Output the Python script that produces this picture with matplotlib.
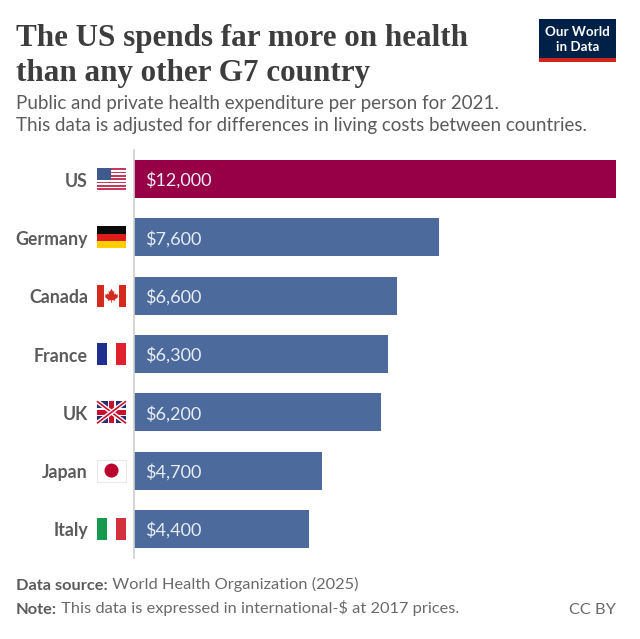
"""G7 health spending bar chart, Our World in Data style."""

import matplotlib

matplotlib.use("Agg")  # headless
import matplotlib.pyplot as plt  # noqa: E402
from matplotlib.patches import Circle, Polygon, Rectangle  # noqa: E402

plt.rcParams["font.family"] = ["Lato", "DejaVu Sans"]

countries = ["US", "Germany", "Canada", "France", "UK", "Japan", "Italy"]
# the printed labels are rounded
spending = [12000, 7590, 6560, 6320, 6150, 4680, 4360]
value_labels = ["$12,000", "$7,600", "$6,600", "$6,300", "$6,200", "$4,700", "$4,400"]
highlight = "US"

W, H = 640, 639
BLUE = "#4c6a9c"
RED = "#970046"
GREY = "#5b5b5b"
LIGHT_GREY = "#6a6a6a"
DARK = "#3d3d3d"
FLAG_W, FLAG_H = 29, 22


def flag_us(ov, x, y):
    ov.add_patch(Rectangle((x, y), FLAG_W, FLAG_H, fc="white", lw=0))
    sh = FLAG_H / 13
    for s in range(0, 13, 2):
        ov.add_patch(Rectangle((x, y + s * sh), FLAG_W, sh, fc="#c6395a", lw=0))
    ov.add_patch(Rectangle((x, y), 14, 7 * sh, fc="#3f5b8c", lw=0))


def flag_germany(ov, x, y):
    for k, c in enumerate(["#0a0a0a", "#dd1c1c", "#ffce00"]):
        ov.add_patch(Rectangle((x, y + k * FLAG_H / 3), FLAG_W, FLAG_H / 3, fc=c, lw=0))


def flag_vertical(ov, x, y, colours):
    for k, c in enumerate(colours):
        ov.add_patch(Rectangle((x + k * FLAG_W / 3, y), FLAG_W / 3, FLAG_H, fc=c, lw=0))


def flag_canada(ov, x, y):
    ov.add_patch(Rectangle((x, y), FLAG_W, FLAG_H, fc="white", lw=0))
    ov.add_patch(Rectangle((x, y), 7, FLAG_H, fc="#d52b1e", lw=0))
    ov.add_patch(Rectangle((x + FLAG_W - 7, y), 7, FLAG_H, fc="#d52b1e", lw=0))
    cx, cy = x + FLAG_W / 2, y + FLAG_H / 2
    leaf = [(0, -7), (1.6, -4), (3, -4.6), (2.4, -1), (4, -2.4), (4.6, -1), (6.5, -1.4),
            (6, 0.6), (6.8, 1.2), (3.4, 3.8), (3.8, 5), (0.4, 4.4), (0.4, 7), (-0.4, 7),
            (-0.4, 4.4), (-3.8, 5), (-3.4, 3.8), (-6.8, 1.2), (-6, 0.6), (-6.5, -1.4),
            (-4.6, -1), (-4, -2.4), (-2.4, -1), (-3, -4.6), (-1.6, -4)]
    ov.add_patch(Polygon([(cx + a, cy + b) for a, b in leaf], fc="#d52b1e", lw=0))


def flag_uk(ov, x, y):
    ov.add_patch(Rectangle((x, y), FLAG_W, FLAG_H, fc="#27306b", lw=0))
    x1, y1 = x + FLAG_W, y + FLAG_H
    clip = Rectangle((x, y), FLAG_W, FLAG_H, transform=ov.transData)
    for xs, ys in [((x, x1), (y, y1)), ((x, x1), (y1, y))]:
        ov.plot(xs, ys, color="white", lw=3.2, solid_capstyle="butt", clip_path=clip)
        ov.plot(xs, ys, color="#c8102e", lw=1.2, solid_capstyle="butt", clip_path=clip)
    ov.add_patch(Rectangle((x + FLAG_W / 2 - 4, y), 8, FLAG_H, fc="white", lw=0))
    ov.add_patch(Rectangle((x, y + FLAG_H / 2 - 4), FLAG_W, 8, fc="white", lw=0))
    ov.add_patch(Rectangle((x + FLAG_W / 2 - 2.4, y), 4.8, FLAG_H, fc="#c8102e", lw=0))
    ov.add_patch(Rectangle((x, y + FLAG_H / 2 - 2.4), FLAG_W, 4.8, fc="#c8102e", lw=0))


def flag_japan(ov, x, y):
    ov.add_patch(Rectangle((x, y), FLAG_W, FLAG_H, fc="white", ec="#e8e8ee", lw=0.8))
    ov.add_patch(Circle((x + FLAG_W / 2, y + FLAG_H / 2), 7, fc="#bc002d", lw=0))


def draw_flag(ov, name, x, y):
    if name == "US":
        flag_us(ov, x, y)
    elif name == "Germany":
        flag_germany(ov, x, y)
    elif name == "Canada":
        flag_canada(ov, x, y)
    elif name == "France":
        flag_vertical(ov, x, y, ["#1f2f8f", "#ffffff", "#e0202c"])
    elif name == "UK":
        flag_uk(ov, x, y)
    elif name == "Japan":
        flag_japan(ov, x, y)
    elif name == "Italy":
        flag_vertical(ov, x, y, ["#169a4e", "#ffffff", "#d32f3c"])


fig = plt.figure(figsize=(W / 100, H / 100), dpi=100)
fig.patch.set_facecolor("white")

# bars
ax = fig.add_axes([134 / W, 1 - 558 / H, 482 / W, 408 / H])
colours = [RED if c == highlight else BLUE for c in countries]
ax.barh(range(len(countries)), spending, height=0.65, color=colours, linewidth=0)
ax.set_xlim(0, max(spending))
ax.set_ylim(len(countries) - 0.5, -0.5)
ax.set_xticks([])
ax.set_yticks([])
for side in ["top", "right", "bottom"]:
    ax.spines[side].set_visible(False)
ax.spines["left"].set_color("#d0d0d0")
ax.spines["left"].set_linewidth(1.2)
for i, label in enumerate(value_labels):
    ax.annotate(label, (0, i), xytext=(11, 0), textcoords="offset pixels",
                va="center_baseline", ha="left", color="#e8edf4", fontsize=13)

# overlay in pixel coordinates for text, flags and logo
ov = fig.add_axes([0, 0, 1, 1], zorder=3)
ov.set_xlim(0, W)
ov.set_ylim(H, 0)
ov.axis("off")
ov.patch.set_alpha(0)

for i, name in enumerate(countries):
    yc = H - ax.transData.transform((0, i))[1]
    draw_flag(ov, name, 97, yc - FLAG_H / 2)
    ov.text(88, yc + 0.5, name, ha="right", va="center_baseline", color=GREY,
            fontsize=12.8, fontweight="bold")

title_font = ["Liberation Serif", "DejaVu Serif"]
ov.text(16, 35, "The US spends far more on health", family=title_font, fontweight="bold",
        fontsize=22.4, color=DARK, va="center_baseline")
ov.text(16, 70, "than any other G7 country", family=title_font, fontweight="bold",
        fontsize=22.4, color=DARK, va="center_baseline")

ov.text(16, 102, "Public and private health expenditure per person for 2021.",
        fontsize=13.5, color=GREY, va="center_baseline")
ov.text(16, 124, "This data is adjusted for differences in living costs between countries.",
        fontsize=13.5, color=GREY, va="center_baseline")

# footer
src = ov.text(16, 584, "Data source:", fontsize=11.8, fontweight="bold", color=GREY,
              va="center_baseline")
ov.annotate(" World Health Organization (2025)", xy=(1, 0), xycoords=src, fontsize=11.8,
            color=LIGHT_GREY, va="bottom")
note = ov.text(16, 608, "Note:", fontsize=11.8, fontweight="bold", color=GREY,
               va="center_baseline")
ov.annotate(" This data is expressed in international-$ at 2017 prices.", xy=(1, 0),
            xycoords=note, fontsize=11.8, color=LIGHT_GREY, va="bottom")
ov.text(616, 608, "CC BY", ha="right", fontsize=11.8, color=LIGHT_GREY, va="center_baseline")

# logo
ov.add_patch(Rectangle((539, 18.5), 77, 43, fc="#002147", lw=0))
ov.add_patch(Rectangle((539, 58), 77, 3.5, fc="#ce261e", lw=0))
ov.text(577.5, 31, "Our World", ha="center", va="center_baseline", color="white",
        fontsize=9.6, fontweight="bold")
ov.text(577.5, 46, "in Data", ha="center", va="center_baseline", color="white",
        fontsize=9.6, fontweight="bold")

fig.savefig("out.png", dpi=100)
plt.close(fig)
